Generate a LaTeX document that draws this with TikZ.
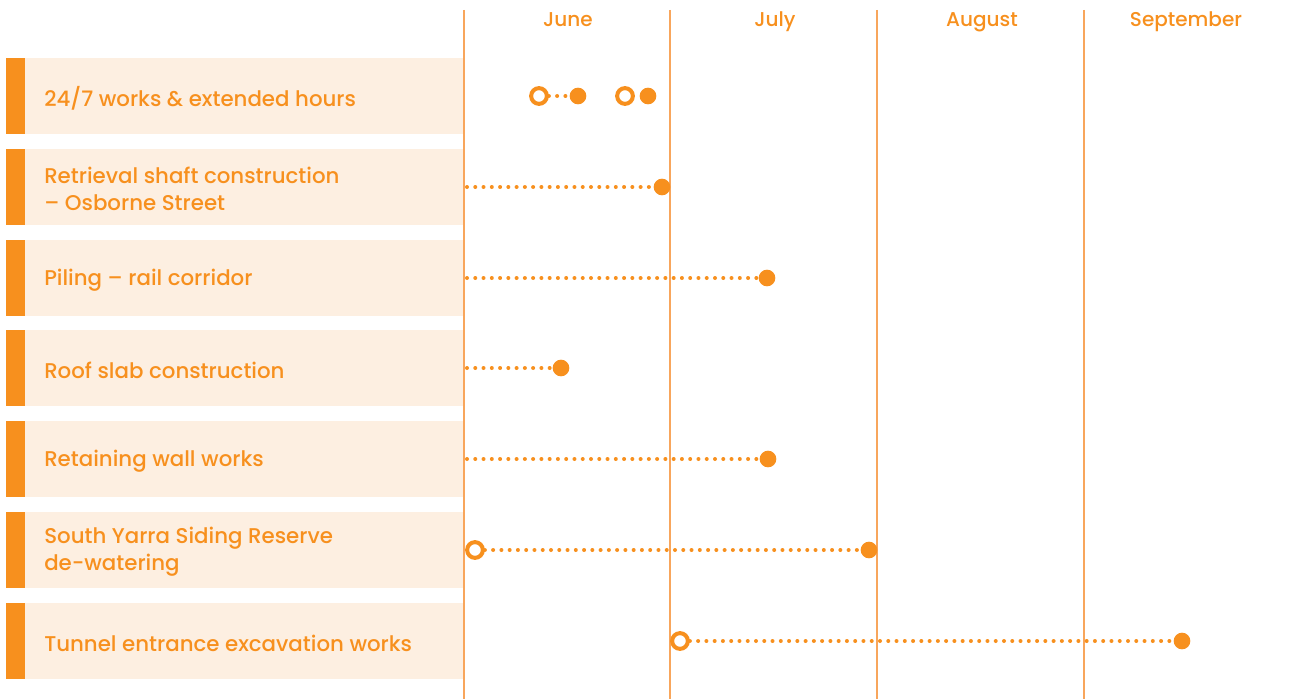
\documentclass[tikz,border=0pt]{standalone}
\usepackage{fontspec}
\setmainfont{Poppins Medium}
\definecolor{planorange}{HTML}{F7901E}
\definecolor{planline}{HTML}{F8A65C}
\definecolor{planfill}{HTML}{FDEFE1}

\begin{document}
\begin{tikzpicture}[x=0.75pt,y=-0.75pt,
  rowbox/.style={fill=planfill,draw=none},
  rowbar/.style={fill=planorange,draw=none},
  rowlabel/.style={anchor=west,align=left,text=planorange,font=\fontsize{16}{20.5}\selectfont,inner sep=0pt},
  monthlabel/.style={anchor=base,text=planorange,font=\fontsize{15}{16}\selectfont,inner sep=0pt},
  monthrule/.style={draw=planline,line width=1.1pt},
  startdot/.style={circle,draw=planorange,fill=white,line width=3pt,minimum size=11.8pt,inner sep=0pt},
  enddot/.style={circle,fill=planorange,minimum size=12.5pt,inner sep=0pt},
  dotline/.style={draw=planorange,line width=3pt,line cap=round,dash pattern=on 0pt off 6.2pt}
]
  \useasboundingbox (0,0) rectangle (1290,699);

  % 1. Rows with their labels
  \foreach \i/\y/\txt in {1/96/{24/7 works \& extended hours},
                          2/187/{Retrieval shaft construction\\– Osborne Street},
                          3/278/{Piling – rail corridor},
                          4/368/{Roof slab construction},
                          5/459/{Retaining wall works},
                          6/550/{South Yarra Siding Reserve\\de-watering},
                          7/641/{Tunnel entrance excavation works}} {
    \fill[rowbox] (25,\y-38) rectangle (463,\y+38);
    \fill[rowbar] (6,\y-38) rectangle (25,\y+38);
    \node[rowlabel] (label\i) at (44,\y+2) {\txt};
  }

  % 2. Month columns
  \foreach \x/\m/\mx in {464/June/568,670/July/775,877/August/982,1084/September/1186} {
    \draw[monthrule] (\x,10) -- (\x,699);
    \node[monthlabel] (month\m) at (\mx,27) {\m};
  }

  % 3. Start and end points of the works
  \node[startdot] (s1a) at (539,96) {};
  \node[enddot]   (e1a) at (578,96) {};
  \node[startdot] (s1b) at (625,96) {};
  \node[enddot]   (e1b) at (648,96) {};
  \coordinate (s2) at (467,187);
  \node[enddot]   (e2) at (662,187) {};
  \coordinate (s3) at (467,278);
  \node[enddot]   (e3) at (767,278) {};
  \coordinate (s4) at (467,368);
  \node[enddot]   (e4) at (561,368) {};
  \coordinate (s5) at (467,459);
  \node[enddot]   (e5) at (768,459) {};
  \node[startdot] (s6) at (475,550) {};
  \node[enddot]   (e6) at (869,550) {};
  \node[startdot] (s7) at (680,641) {};
  \node[enddot]   (e7) at (1182,641) {};

  % 4. Dotted spans between them
  \foreach \a/\b in {s1a/e1a,s2/e2,s3/e3,s4/e4,s5/e5,s6/e6,s7/e7}
    \draw[dotline] (\a) -- (\b);
\end{tikzpicture}
\end{document}
